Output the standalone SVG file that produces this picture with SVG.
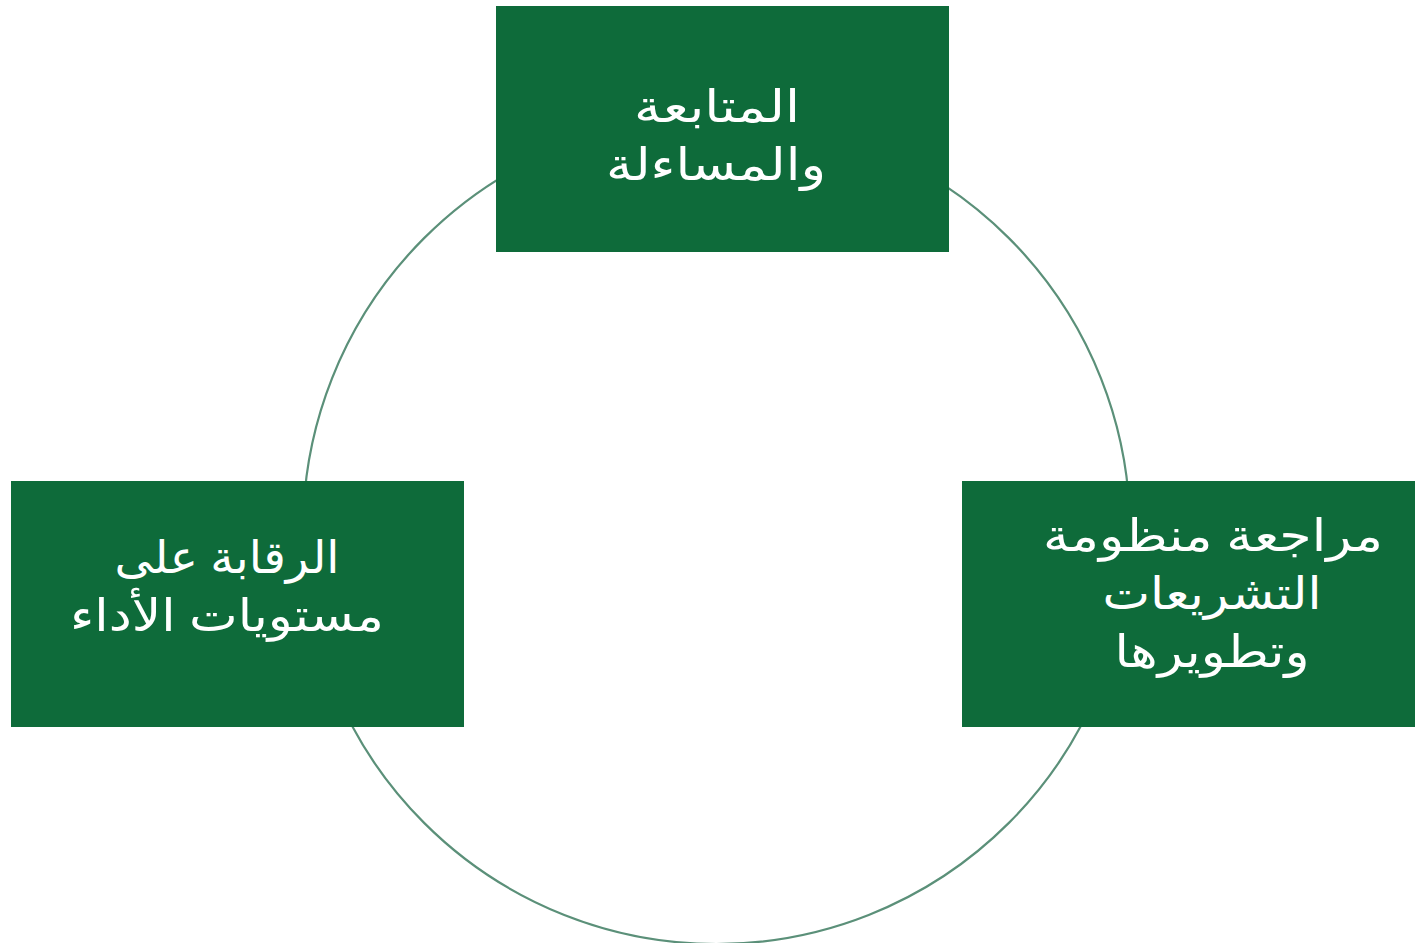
<svg xmlns="http://www.w3.org/2000/svg" width="1427" height="943" viewBox="0 0 1427 943">
<style>
.box{fill:#0E6B3A}
.t{fill:#FFFFFF;font-family:"Noto Sans","DejaVu Sans",sans-serif;font-size:45px;text-anchor:middle;direction:rtl}
.ring{fill:none;stroke:#5B9079;stroke-width:2.2}
</style>
<rect width="1427" height="943" fill="#FFFFFF"/>
<g id="connectors">
<circle class="ring" cx="716.5" cy="530.5" r="413.5"/>
</g>
<g id="node-top">
<rect class="box" x="496" y="6" width="453" height="246"/>
<text class="t" x="717" y="122" textLength="166" lengthAdjust="spacingAndGlyphs">المتابعة</text>
<text class="t" x="716" y="180" textLength="220" lengthAdjust="spacingAndGlyphs">والمساءلة</text>
</g>
<g id="node-left">
<rect class="box" x="11" y="481" width="453" height="246"/>
<text class="t" x="227" y="573" textLength="225" lengthAdjust="spacingAndGlyphs">الرقابة على</text>
<text class="t" x="227" y="631" textLength="314" lengthAdjust="spacingAndGlyphs">مستويات الأداء</text>
</g>
<g id="node-right">
<rect class="box" x="962" y="481" width="453" height="246"/>
<text class="t" x="1213" y="551" textLength="340" lengthAdjust="spacingAndGlyphs">مراجعة منظومة</text>
<text class="t" x="1212" y="609" textLength="219" lengthAdjust="spacingAndGlyphs">التشريعات</text>
<text class="t" x="1212" y="667" textLength="195" lengthAdjust="spacingAndGlyphs">وتطويرها</text>
</g>
</svg>
